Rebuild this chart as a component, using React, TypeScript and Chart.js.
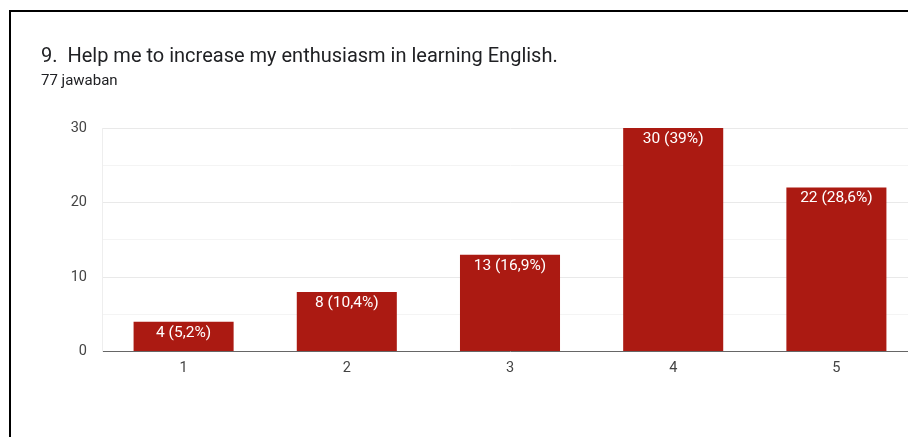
import React, { useEffect, useRef } from "react";
import { Chart, registerables } from "chart.js";

Chart.register(...registerables);

const titleText = "9.  Help me to increase my enthusiasm in learning English.";
const subtitleText = "77 jawaban";
const categories = ["1", "2", "3", "4", "5"];
const counts = [4, 8, 13, 30, 22];
const percentLabels = ["5,2%", "10,4%", "16,9%", "39%", "28,6%"];
const yTickValues = [0, 10, 20, 30];

const FONT = "Roboto, 'Liberation Sans', Arial, sans-serif";

export default function App() {
  const canvasRef = useRef<HTMLCanvasElement | null>(null);

  useEffect(() => {
    const canvas = canvasRef.current;
    if (!canvas) return;
    document.body.style.margin = "0";
    document.body.style.overflow = "hidden";

    const labelPlugin = {
      id: "barValueLabels",
      afterDatasetsDraw(chart: any) {
        const ctx = chart.ctx;
        const meta = chart.getDatasetMeta(0);
        ctx.save();
        ctx.fillStyle = "#ffffff";
        ctx.font = `15.5px ${FONT}`;
        ctx.textAlign = "center";
        ctx.textBaseline = "middle";
        meta.data.forEach((bar: any, i: number) => {
          const text = `${counts[i]} (${percentLabels[i]})`;
          ctx.fillText(text, bar.x, bar.y + 11);
        });
        ctx.restore();
      },
    };

    const chart = new Chart(canvas, {
      type: "bar",
      data: {
        labels: categories,
        datasets: [
          {
            data: counts,
            backgroundColor: "#ab1a12",
            borderWidth: 0,
            barPercentage: 0.613,
            categoryPercentage: 1,
          },
        ],
      },
      options: {
        responsive: false,
        animation: false,
        maintainAspectRatio: false,
        layout: { padding: { top: 128, left: 0, right: 0, bottom: 0 } },
        plugins: {
          legend: { display: false },
          tooltip: { enabled: false },
          title: { display: false },
        },
        scales: {
          x: {
            grid: { display: false, drawTicks: false },
            border: { display: true, color: "#666666", width: 1 },
            ticks: {
              color: "#444444",
              font: { family: FONT, size: 14.5 },
              padding: 8,
            },
            afterFit: (s: any) => {
              s.height = 85.5;
            },
          },
          y: {
            min: 0,
            max: 30,
            ticks: {
              stepSize: 5,
              autoSkip: false,
              color: "#444444",
              font: { family: FONT, size: 14.5 },
              padding: 15,
              callback: (v: any) => (yTickValues.includes(Number(v)) ? String(v) : ""),
            },
            grid: {
              drawTicks: false,
              color: (c: any) => {
                const v = c.tick ? c.tick.value : 0;
                if (v === 0) return "rgba(0,0,0,0)";
                return v % 10 === 0 ? "#e9e9e9" : "#f4f4f4";
              },
            },
            border: { display: true, color: "#eeeeee" },
            afterFit: (s: any) => {
              s.width = 102;
            },
          },
        },
      },
      plugins: [labelPlugin],
    });

    return () => {
      chart.destroy();
    };
  }, []);

  return (
    <div
      style={{
        position: "fixed",
        left: 0,
        top: 0,
        width: 908,
        height: 437,
        overflow: "hidden",
        background: "#ffffff",
      }}
    >
      <div
        style={{
          position: "absolute",
          left: 9,
          top: 10,
          width: 1000,
          height: 600,
          borderLeft: "2px solid #000",
          borderTop: "2px solid #000",
        }}
      />
      <canvas
        ref={canvasRef}
        width={918}
        height={437}
        style={{ position: "absolute", left: 0, top: 0, width: 918, height: 437 }}
      />
      <div
        style={{
          position: "absolute",
          left: 41,
          top: 45,
          fontFamily: FONT,
          fontSize: 20,
          lineHeight: "20px",
          color: "#202124",
          whiteSpace: "pre",
        }}
      >
        {titleText}
      </div>
      <div
        style={{
          position: "absolute",
          left: 41,
          top: 73,
          fontFamily: FONT,
          fontSize: 15,
          lineHeight: "15px",
          color: "#202124",
          whiteSpace: "pre",
        }}
      >
        {subtitleText}
      </div>
    </div>
  );
}
